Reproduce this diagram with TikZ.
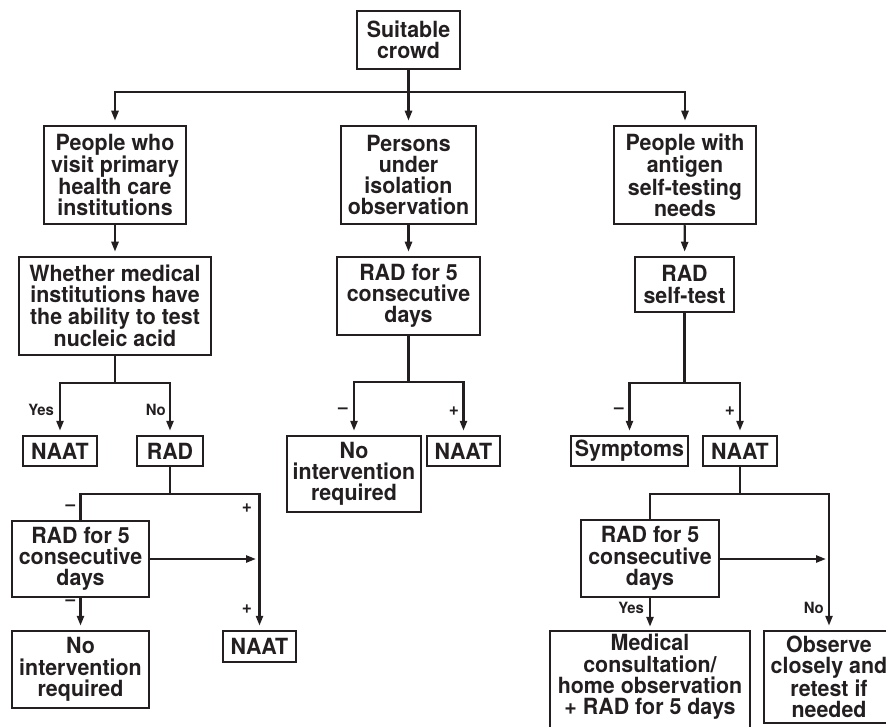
\documentclass[tikz,border=0pt]{standalone}
\usepackage{fontspec}
\setmainfont{TeX Gyre Heros}[FakeStretch=0.96]
\usetikzlibrary{arrows.meta}
\definecolor{ink}{RGB}{35,31,32}
\begin{document}
\begin{tikzpicture}[x=1pt,y=-1pt,
  box/.style={draw=ink, line width=2.5pt, inner sep=0pt, align=center, text=ink,
    font=\fontsize{22.3}{21.3}\selectfont\bfseries},
  txt/.style={inner sep=0pt, align=center, text=ink,
    font=\fontsize{22.3}{21.3}\selectfont\bfseries},
  conn/.style={draw=ink, line width=2.4pt},
  arr/.style={conn, -{Triangle[length=10pt,width=7pt]}, shorten >=4pt},
  lab/.style={text=ink, inner sep=0pt, font=\fontsize{15.5}{16}\selectfont\bfseries},
  sgn/.style={text=ink, inner sep=0pt, font=\fontsize{18}{18}\selectfont\bfseries}]
\useasboundingbox (0,0) rectangle (886,727);

% boxes
\node[box, minimum width=103pt, minimum height=58pt] (top) at (408.5,40) {Suitable\\crowd};
\node[box, minimum width=142pt, minimum height=98pt] (p1) at (115,175) {People who\\visit primary\\health care\\institutions};
\node[box, minimum width=135pt, minimum height=98pt] (p2) at (408.5,175) {Persons\\under\\isolation\\observation};
\node[box, minimum width=142pt, minimum height=98pt] (p3) at (685,175) {People with\\antigen\\self-testing\\needs};
\node[box, minimum width=192pt, minimum height=98pt] (w1) at (115,306) {Whether medical\\institutions have\\the ability to test\\nucleic acid};
\node[box, minimum width=143pt, minimum height=78pt] (r2) at (408.5,296) {RAD for 5\\consecutive\\days};
\node[box, minimum width=99pt, minimum height=55pt] (r3) at (684.5,284.5) {RAD\\self-test};
\node[box, minimum width=74pt, minimum height=30pt] (naat1) at (60,451) {NAAT};
\node[box, minimum width=66pt, minimum height=30pt] (rad1) at (170,451) {RAD};
\node[box, minimum width=134pt, minimum height=76pt] (noint2) at (354,474) {No\\intervention\\required};
\node[box, minimum width=73pt, minimum height=30pt] (naat2) at (463.5,451) {NAAT};
\node[box, minimum width=117pt, minimum height=30pt] (symp) at (629.5,451) {Symptoms};
\node[box, minimum width=74pt, minimum height=30pt] (naat3) at (740,451) {NAAT};
\node[box, minimum width=137pt, minimum height=76pt] (rad5a) at (80.5,559) {RAD for 5\\consecutive\\days};
\node[box, minimum width=73pt, minimum height=31pt] (naat4) at (259.5,646.5) {NAAT};
\node[box, minimum width=137pt, minimum height=77pt] (noint1) at (80.5,669.5) {No\\intervention\\required};
\node[box, minimum width=138pt, minimum height=77pt] (rad5b) at (650,558.5) {RAD for 5\\consecutive\\days};
\node[txt, minimum width=200pt, minimum height=92pt] (med) at (650,677) {Medical\\consultation/\\home observation\\+ RAD for 5 days};
\draw[draw=ink, line width=2.5pt] ([yshift=-12pt]med.south west) -- (med.north west) -- (med.north east) -- ([yshift=-12pt]med.south east);
\node[box, minimum width=130pt, minimum height=92pt] (obs) at (829,677) {Observe\\closely and\\retest if\\needed};

% junctions
\coordinate (j0) at (408.5,92);
\coordinate (j1) at (115,383);
\coordinate (j2) at (170,494);
\coordinate (j3) at (408.5,382);
\coordinate (j4) at (684.5,383);
\coordinate (j5) at (740,494);
\coordinate (v1) at (259,559);
\coordinate (v2) at (829,559);

% top level
\draw[conn] (top.south) -- (j0);
\draw[arr] (j0) -| (p1.north);
\draw[arr] (j0) -- (p2.north);
\draw[arr] (j0) -| (p3.north);
\draw[arr] (p1) -- (w1);
\draw[arr] (p2) -- (r2);
\draw[arr] (p3) -- (r3);

% left branch
\draw[conn] (w1.south) -- (j1);
\draw[arr] (j1) -| (naat1.north);
\draw[arr] (j1) -| (rad1.north);
\node[lab, anchor=east] (lyes1) at (54,410) {Yes};
\node[lab, anchor=east] (lno1) at (166,410) {No};
\draw[conn] (rad1.south) -- (j2);
\draw[conn] (j2) -| (rad5a.north);
\draw[arr] (j2) -| (naat4.north);
\node[sgn] (lm1) at (70.5,508) {–};
\node[sgn] (lp1) at (247,508) {+};
\draw[arr, shorten >=3pt] (rad5a.east |- v1) -- (v1);
\draw[arr] (rad5a) -- (noint1);
\node[sgn] (lm2) at (70.5,603) {–};
\node[sgn] (lp2) at (247,609) {+};

% middle branch
\draw[conn] (r2.south) -- (j3);
\draw[arr] (j3) -| (noint2.north);
\draw[arr] (j3) -| (naat2.north);
\node[sgn] (lm3) at (343,411) {–};
\node[sgn] (lp3) at (454,411) {+};

% right branch
\draw[conn] (r3.south) -- (j4);
\draw[arr] (j4) -| (symp.north);
\draw[arr] (j4) -| (naat3.north);
\node[sgn] (lm4) at (619,411) {–};
\node[sgn] (lp4) at (730,411) {+};
\draw[conn] (naat3.south) -- (j5);
\draw[conn] (j5) -| (rad5b.north);
\draw[arr] (j5) -| (obs.north -| v2);
\draw[arr, shorten >=3pt] (rad5b.east |- v2) -- (v2);
\draw[arr] (rad5b) -- (med);
\node[lab, anchor=east] (lyes2) at (644,608) {Yes};
\node[lab, anchor=east] (lno2) at (824,608) {No};
\end{tikzpicture}
\end{document}
